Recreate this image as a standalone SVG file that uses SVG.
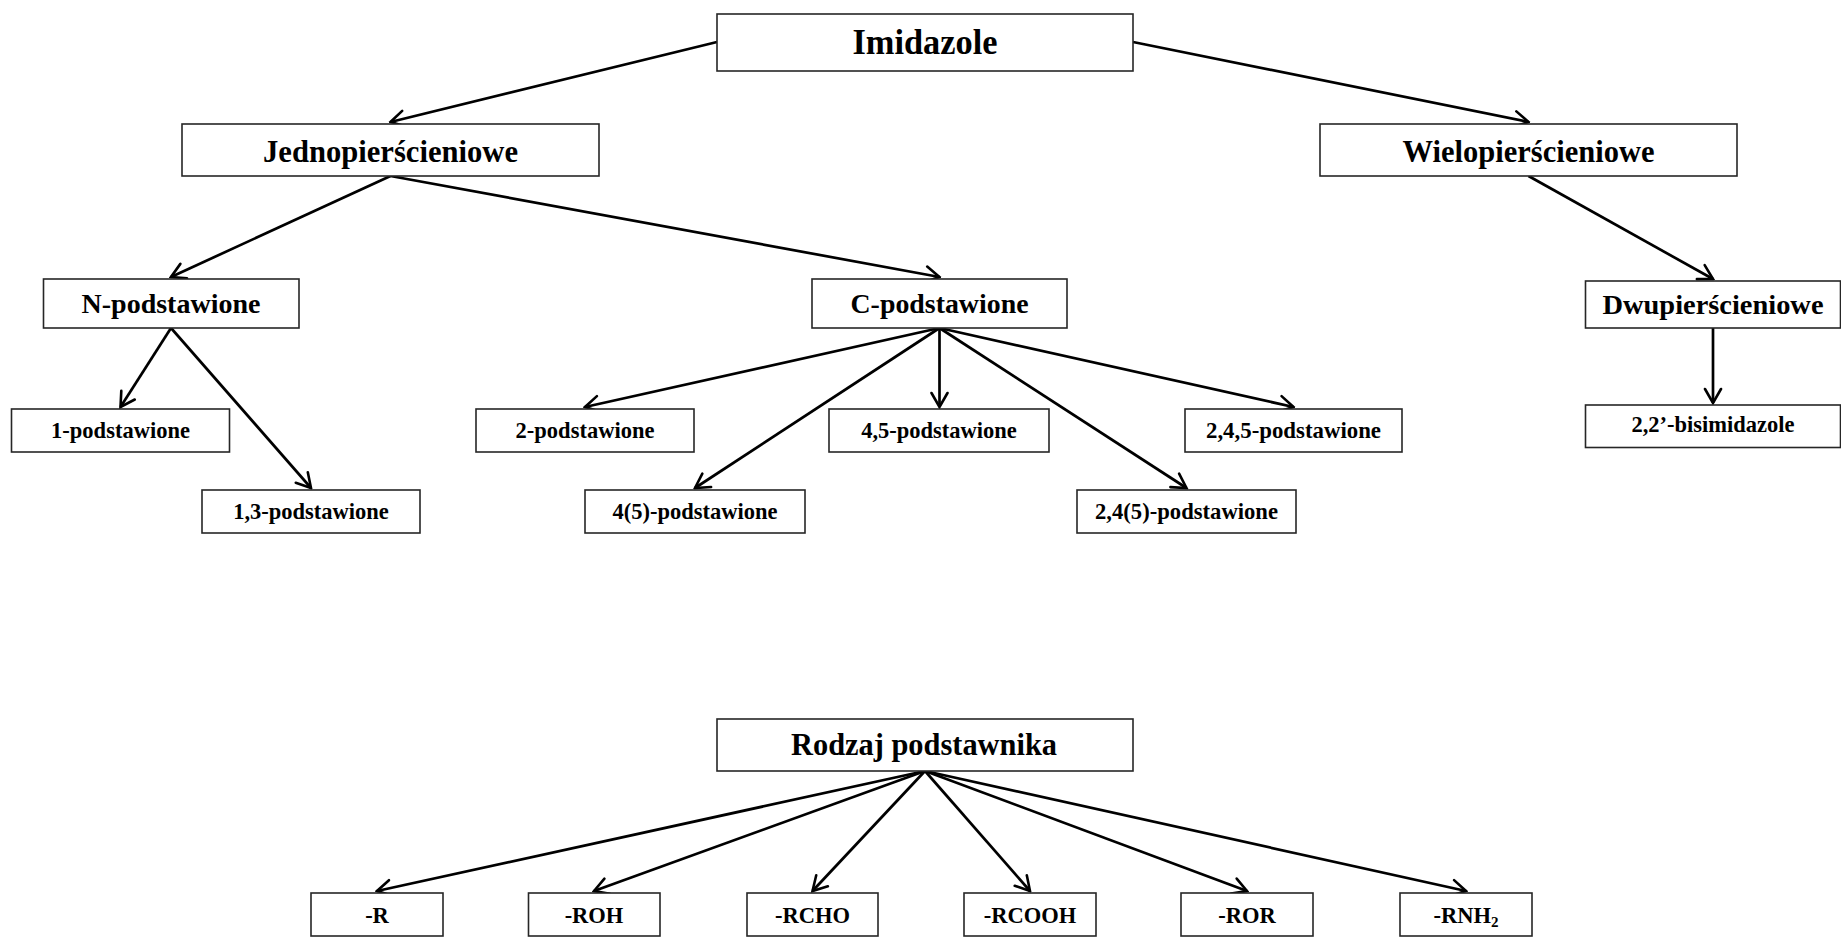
<svg xmlns="http://www.w3.org/2000/svg" width="1841" height="939" viewBox="0 0 1841 939">
<style>
.box{fill:#fff;stroke:#262626;stroke-width:1.6}
.t{font-family:"Liberation Serif","Times New Roman",serif;font-weight:bold;fill:#000;text-anchor:middle}
.t1{font-size:35px}
.t2{font-size:31px}
.t3{font-size:27px}
.t4{font-size:22.5px}
.c line{stroke:#000;stroke-width:2.7;fill:none;marker-end:url(#arr)}
</style>
<defs>
<marker id="arr" markerUnits="userSpaceOnUse" viewBox="-17 -11 19 22" markerWidth="19" markerHeight="22" refX="0" refY="0" orient="auto">
<path d="M-14,-8 L0,0 L-14,8" fill="none" stroke="#000" stroke-width="2.6" stroke-linejoin="miter" stroke-linecap="round"/>
</marker>
</defs>
<rect width="1841" height="939" fill="#fff"/>
<g class="c" id="connectors">
<line x1="717" y1="42" x2="390.5" y2="122"/>
<line x1="1133" y1="42" x2="1528.5" y2="122"/>
<line x1="390.5" y1="176" x2="171" y2="277"/>
<line x1="390.5" y1="176" x2="939.5" y2="277"/>
<line x1="1528.5" y1="176" x2="1713" y2="279"/>
<line x1="171" y1="328" x2="120.5" y2="407"/>
<line x1="171" y1="328" x2="311" y2="488"/>
<line x1="939.5" y1="328" x2="585" y2="407"/>
<line x1="939.5" y1="328" x2="695" y2="488"/>
<line x1="939.5" y1="328" x2="939.5" y2="407"/>
<line x1="939.5" y1="328" x2="1293.5" y2="407"/>
<line x1="939.5" y1="328" x2="1186.5" y2="488"/>
<line x1="1713" y1="328" x2="1713" y2="403"/>
<line x1="925" y1="771" x2="377" y2="891"/>
<line x1="925" y1="771" x2="594" y2="891"/>
<line x1="925" y1="771" x2="812.5" y2="891"/>
<line x1="925" y1="771" x2="1030" y2="891"/>
<line x1="925" y1="771" x2="1247" y2="891"/>
<line x1="925" y1="771" x2="1466" y2="891"/>
</g>
<g id="imidazole"><rect class="box" x="717" y="14" width="416" height="57"/><text class="t t1" x="925" y="54" textLength="145" lengthAdjust="spacingAndGlyphs">Imidazole</text></g>
<g id="jedno"><rect class="box" x="182" y="124" width="417" height="52"/><text class="t t2" x="390.5" y="162" textLength="255" lengthAdjust="spacingAndGlyphs">Jednopierścieniowe</text></g>
<g id="wielo"><rect class="box" x="1320" y="124" width="417" height="52"/><text class="t t2" x="1528.5" y="162" textLength="252" lengthAdjust="spacingAndGlyphs">Wielopierścieniowe</text></g>
<g id="npodst"><rect class="box" x="43.5" y="279" width="255.5" height="49"/><text class="t t3" x="171" y="312.5" textLength="179" lengthAdjust="spacingAndGlyphs">N-podstawione</text></g>
<g id="cpodst"><rect class="box" x="812" y="279" width="255" height="49"/><text class="t t3" x="939.5" y="312.5" textLength="178" lengthAdjust="spacingAndGlyphs">C-podstawione</text></g>
<g id="dwu"><rect class="box" x="1585.5" y="281" width="255" height="47"/><text class="t t3" x="1713" y="313.5" textLength="221" lengthAdjust="spacingAndGlyphs">Dwupierścieniowe</text></g>
<g id="p1"><rect class="box" x="11.5" y="409" width="218" height="43"/><text class="t t4" x="120.5" y="438">1-podstawione</text></g>
<g id="p13"><rect class="box" x="202" y="490" width="218" height="43"/><text class="t t4" x="311" y="519">1,3-podstawione</text></g>
<g id="p2"><rect class="box" x="476" y="409" width="218" height="43"/><text class="t t4" x="585" y="438">2-podstawione</text></g>
<g id="p4p5"><rect class="box" x="585" y="490" width="220" height="43"/><text class="t t4" x="695" y="519">4(5)-podstawione</text></g>
<g id="p45"><rect class="box" x="829" y="409" width="220" height="43"/><text class="t t4" x="939" y="438">4,5-podstawione</text></g>
<g id="p245"><rect class="box" x="1185" y="409" width="217" height="43"/><text class="t t4" x="1293.5" y="438" textLength="175" lengthAdjust="spacingAndGlyphs">2,4,5-podstawione</text></g>
<g id="p24p5"><rect class="box" x="1077" y="490" width="219" height="43"/><text class="t t4" x="1186.5" y="519" textLength="183" lengthAdjust="spacingAndGlyphs">2,4(5)-podstawione</text></g>
<g id="bis"><rect class="box" x="1585.5" y="405" width="255" height="42.5"/><text class="t t4" x="1713" y="431.5">2,2’-bisimidazole</text></g>
<g id="rodzaj"><rect class="box" x="717" y="719" width="416" height="52"/><text class="t t2" x="924" y="755" textLength="266" lengthAdjust="spacingAndGlyphs">Rodzaj podstawnika</text></g>
<g id="r"><rect class="box" x="311" y="893" width="132" height="43"/><text class="t t4" x="377" y="922.5">-R</text></g>
<g id="roh"><rect class="box" x="528.5" y="893" width="131.5" height="43"/><text class="t t4" x="594" y="922.5">-ROH</text></g>
<g id="rcho"><rect class="box" x="747" y="893" width="131" height="43"/><text class="t t4" x="812.5" y="922.5">-RCHO</text></g>
<g id="rcooh"><rect class="box" x="964" y="893" width="132" height="43"/><text class="t t4" x="1030" y="922.5">-RCOOH</text></g>
<g id="ror"><rect class="box" x="1181" y="893" width="132" height="43"/><text class="t t4" x="1247" y="922.5">-ROR</text></g>
<g id="rnh2"><rect class="box" x="1400" y="893" width="132" height="43"/><text class="t t4" x="1466" y="922.5">-RNH<tspan font-size="15" dy="4">2</tspan></text></g>
</svg>
